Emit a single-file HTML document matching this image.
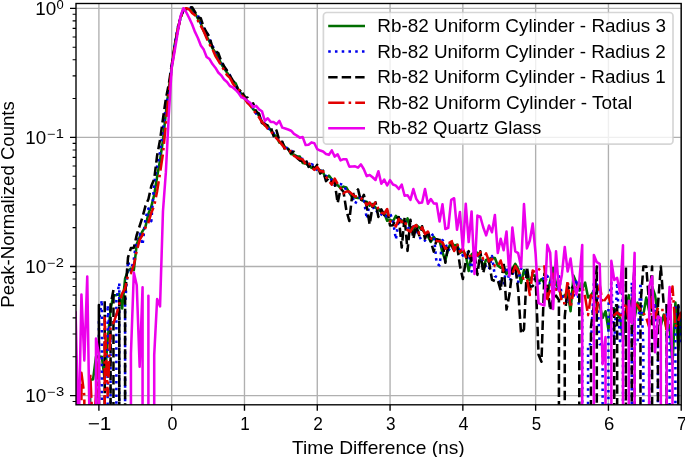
<!DOCTYPE html><html><head><meta charset="utf-8"><style>html,body{margin:0;padding:0;background:#fff;overflow:hidden}svg{display:block;will-change:transform}</style></head><body><svg width="685" height="457" viewBox="0 0 685 457">
<rect width="685" height="457" fill="#fff"/>
<path d="M98.90 3.5V404.8M171.69 3.5V404.8M244.48 3.5V404.8M317.27 3.5V404.8M390.06 3.5V404.8M462.85 3.5V404.8M535.64 3.5V404.8M608.43 3.5V404.8M681.22 3.5V404.8M76.0 8.35H681.2M76.0 137.43H681.2M76.0 266.51H681.2M76.0 395.59H681.2" stroke="#b0b0b0" stroke-width="1.36" fill="none"/>
<defs><clipPath id="c"><rect x="76.0" y="3.5" width="605.2" height="401.3"/></clipPath></defs>
<g clip-path="url(#c)" fill="none" stroke-width="2.55" stroke-linejoin="round">
<path d="M69.78 421.23L75.61 422.88L75.61 418.32L75.61 420.22L90.17 414.86L90.17 379.46L93.08 379.46L95.99 356.73L98.90 356.73L101.81 356.73L104.72 379.46L107.63 340.61L110.55 309.23L113.46 295.15L116.37 295.15L119.28 294.03L122.19 308.50L125.10 278.44L128.02 271.08L130.93 268.55L133.84 270.11L136.75 244.04L139.66 237.17L142.57 231.17L145.49 226.60L148.40 213.81L151.31 206.60L154.22 194.69L157.13 176.74L160.04 160.34L162.96 140.26L165.87 113.05L168.78 88.76L171.69 67.94L174.60 45.28L177.51 30.83L180.42 17.72L183.34 9.25L186.25 8.79L189.16 9.06L192.07 10.37L194.98 13.00L197.89 18.70L200.81 23.66L203.72 31.02L206.63 36.31L209.54 41.68L212.45 48.35L215.36 52.52L218.28 57.21L221.19 63.88L224.10 68.60L227.01 72.58L229.92 76.74L232.83 81.79L235.75 83.39L238.66 90.45L241.57 94.10L244.48 95.93L247.39 101.34L250.30 104.02L253.21 109.34L256.13 110.81L259.04 116.03L261.95 121.45L264.86 125.41L267.77 125.69L270.68 130.34L273.60 134.09L276.51 136.72L279.42 142.62L282.33 142.98L285.24 147.53L288.15 148.67L291.07 154.06L293.98 154.68L296.89 156.29L299.80 156.56L302.71 162.91L305.62 163.49L308.54 165.33L311.45 167.75L314.36 168.38L317.27 168.62L320.18 170.31L323.09 172.47L326.00 178.41L328.92 175.59L331.83 179.31L334.74 181.99L337.65 185.22L340.56 188.12L343.47 186.64L346.39 187.50L349.30 192.68L352.21 196.92L355.12 197.54L358.03 197.93L360.94 198.32L363.86 201.30L366.77 201.65L369.68 205.71L372.59 204.04L375.50 207.63L378.41 208.82L381.33 212.20L384.24 213.22L387.15 220.82L390.06 220.01L392.97 221.49L395.88 215.79L398.79 219.54L401.71 220.20L404.62 224.59L407.53 218.45L410.44 229.11L413.35 230.58L416.26 225.10L419.18 227.41L422.09 229.34L425.00 233.17L427.91 236.34L430.82 241.88L433.73 236.84L436.65 241.13L439.56 240.79L442.47 252.47L445.38 260.20L448.29 248.63L451.20 242.06L454.12 245.67L457.03 244.62L459.94 252.80L462.85 251.04L465.76 255.13L468.67 271.04L471.58 254.57L474.50 252.05L477.41 252.63L480.32 258.66L483.23 266.68L486.14 259.84L489.05 258.82L491.97 257.67L494.88 258.04L497.79 265.46L500.70 267.60L503.61 265.60L506.52 273.97L509.44 267.93L512.35 268.99L515.26 263.88L518.17 268.99L521.08 283.07L523.99 270.02L526.91 277.79L529.82 280.47L532.73 275.18L535.64 275.62L538.55 282.64L541.46 279.02L544.37 282.64L547.29 295.15L550.20 280.80L553.11 267.93L556.02 284.54L558.93 288.54L561.84 297.53L564.76 295.15L567.67 292.86L570.58 311.27L573.49 275.62L576.40 282.64L579.31 290.66L582.23 288.54L585.14 282.64L588.05 297.53L590.96 295.15L593.87 290.66L596.78 302.63L599.70 305.37L602.61 317.88L605.52 311.27L608.43 329.52L611.34 308.24L614.25 308.24L617.16 314.48L620.08 317.88L622.99 338.88L625.90 311.27L628.81 295.15L631.72 321.49L634.63 317.88L637.55 302.63L640.46 314.48L643.37 314.48L646.28 297.53L649.19 311.27L652.10 286.50L655.02 295.15L657.93 314.48L660.84 325.36L663.75 314.48L666.66 329.52L669.57 325.36L672.49 364.22L675.40 302.63L678.31 350.13L681.22 314.48L684.13 317.88" stroke="#006e00" stroke-linecap="square"/>
<path d="M69.78 421.23L98.90 422.88L98.90 322.00L101.81 300.00L101.81 420.22L107.63 414.86L107.63 305.00L110.55 344.00L110.55 421.38L116.37 414.62L116.37 300.00L119.28 283.00L119.28 416.43L125.10 425.87L125.10 305.00L128.02 261.04L130.93 271.00L133.84 259.31L136.75 237.54L139.66 233.91L142.57 244.80L145.49 218.35L148.40 208.57L151.31 221.16L154.22 182.96L157.13 165.90L160.04 152.38L162.96 129.51L165.87 105.60L168.78 92.05L171.69 66.06L174.60 46.03L177.51 28.01L180.42 18.84L183.34 9.06L186.25 10.42L189.16 9.07L192.07 6.86L194.98 13.27L197.89 15.53L200.81 22.17L203.72 28.00L206.63 31.17L209.54 39.50L212.45 45.37L215.36 52.55L218.28 55.02L221.19 62.98L224.10 65.41L227.01 71.19L229.92 75.27L232.83 82.55L235.75 85.54L238.66 92.12L241.57 93.68L244.48 97.80L247.39 101.66L250.30 103.50L253.21 107.87L256.13 113.78L259.04 115.75L261.95 120.46L264.86 123.75L267.77 128.07L270.68 130.00L273.60 133.23L276.51 137.19L279.42 140.77L282.33 142.85L285.24 148.02L288.15 147.91L291.07 150.56L293.98 152.72L296.89 158.07L299.80 158.15L302.71 159.00L305.62 160.50L308.54 164.89L311.45 164.15L314.36 165.53L317.27 170.77L320.18 169.35L323.09 173.19L326.00 176.00L328.92 177.29L331.83 180.29L334.74 185.49L337.65 183.64L340.56 184.13L343.47 184.92L346.39 190.62L349.30 191.83L352.21 197.36L355.12 203.85L358.03 198.26L360.94 197.18L363.86 199.27L366.77 218.81L369.68 202.78L372.59 205.79L375.50 212.49L378.41 210.41L381.33 214.29L384.24 217.54L387.15 215.43L390.06 213.52L392.97 220.30L395.88 239.50L398.79 218.60L401.71 219.90L404.62 220.17L407.53 227.38L410.44 229.23L413.35 226.30L416.26 230.01L419.18 236.09L422.09 241.42L425.00 240.49L427.91 233.50L430.82 236.00L433.73 234.01L436.65 263.68L439.56 265.45L442.47 239.97L445.38 243.43L448.29 250.88L451.20 246.40L454.12 249.33L457.03 248.80L459.94 249.81L462.85 255.58L465.76 252.56L468.67 252.12L471.58 271.50L474.50 250.91L477.41 254.43L480.32 260.08L483.23 260.83L486.14 267.12L489.05 269.62L491.97 255.95L494.88 276.13L497.79 277.66L500.70 283.55L503.61 284.80L506.52 266.67L509.44 281.22L512.35 275.07L515.26 268.16L518.17 282.18L521.08 268.42L523.99 271.91L526.91 272.95L529.82 273.64L532.73 272.94L535.64 280.93L538.55 283.61L541.46 282.39L544.37 275.92L547.29 275.67L550.20 282.62L553.11 279.45L556.02 292.17L558.93 276.25L561.84 295.29L564.76 300.23L567.67 304.32L570.58 293.93L573.49 297.53L576.40 279.21L579.31 310.29L582.23 310.05L582.23 421.83L588.05 428.07L588.05 344.22L590.96 344.22L593.87 282.64L596.78 282.64L599.70 344.22L602.61 344.22L602.61 426.91L608.43 415.77L608.43 305.37L611.34 282.64L614.25 344.22L617.16 282.64L620.08 344.22L622.99 282.64L622.99 414.60L631.72 430.48L631.72 282.64L634.63 344.22L637.55 344.22L640.46 282.64L643.37 344.22L643.37 424.20L649.19 416.41L649.19 344.22L652.10 344.22L655.02 305.37L657.93 344.22L657.93 414.88L666.66 423.30L666.66 305.37L669.57 344.22L669.57 423.85L675.40 428.78L675.40 305.37L678.31 305.37L681.22 344.22L684.13 282.64" stroke="#0000ee" stroke-dasharray="2.55 4.2"/>
<path d="M69.78 481.85L72.70 266.00L72.70 421.23L98.90 422.88L98.90 305.00L98.90 420.22L104.72 414.86L104.72 300.00L104.72 421.38L110.55 414.62L110.55 305.00L113.46 290.00L113.46 416.43L119.28 425.87L119.28 300.00L119.28 421.83L125.10 428.07L125.10 296.00L128.02 257.37L130.93 248.12L133.84 247.65L136.75 234.85L139.66 225.91L142.57 216.88L145.49 205.82L148.40 199.19L151.31 186.09L154.22 179.04L157.13 155.53L160.04 139.99L162.96 118.82L165.87 98.76L168.78 84.31L171.69 64.84L174.60 47.58L177.51 31.06L180.42 17.81L183.34 10.51L186.25 9.02L189.16 8.16L192.07 7.19L194.98 11.94L197.89 17.38L200.81 18.28L203.72 27.34L206.63 32.33L209.54 37.10L212.45 47.23L215.36 51.01L218.28 53.03L221.19 61.02L224.10 66.23L227.01 70.73L229.92 75.73L232.83 80.47L235.75 84.05L238.66 91.95L241.57 89.42L244.48 97.84L247.39 97.43L250.30 105.38L253.21 103.40L256.13 111.77L259.04 113.60L261.95 123.13L264.86 124.02L267.77 125.69L270.68 126.72L273.60 136.10L276.51 130.47L279.42 140.93L282.33 141.69L285.24 151.17L288.15 149.24L291.07 153.03L293.98 151.77L296.89 157.71L299.80 160.44L302.71 161.25L305.62 159.69L308.54 166.87L311.45 163.77L314.36 169.18L317.27 164.80L320.18 173.52L323.09 170.68L326.00 181.12L328.92 178.00L331.83 182.33L334.74 182.36L337.65 203.18L340.56 188.71L343.47 191.56L346.39 210.54L349.30 220.99L352.21 194.79L355.12 193.58L358.03 189.42L360.94 201.11L363.86 194.84L366.77 206.70L369.68 224.57L372.59 205.98L375.50 202.26L378.41 216.90L381.33 209.33L384.24 215.23L387.15 210.63L390.06 225.56L392.97 225.16L395.88 218.85L398.79 217.02L401.71 247.55L404.62 217.50L407.53 250.85L410.44 219.74L413.35 238.80L416.26 226.03L419.18 235.30L422.09 226.19L425.00 238.63L427.91 231.19L430.82 241.61L433.73 251.63L436.65 239.23L439.56 239.92L442.47 240.49L445.38 262.78L448.29 244.88L451.20 244.71L454.12 250.28L457.03 245.35L459.94 265.66L462.85 279.08L465.76 261.50L468.67 251.15L471.58 260.90L474.50 253.59L477.41 274.95L480.32 251.27L483.23 273.07L486.14 260.50L489.05 261.99L491.97 279.74L494.88 280.99L497.79 280.13L500.70 290.41L503.61 261.81L506.52 309.57L509.44 294.54L512.35 269.99L515.26 265.71L518.17 289.97L521.08 333.80L523.99 329.23L526.91 266.64L529.82 286.76L532.73 286.15L535.64 276.81L538.55 354.83L541.46 361.80L544.37 273.72L547.29 284.18L550.20 310.29L553.11 298.00L556.02 295.62L558.93 300.03L558.93 426.91L564.76 415.77L564.76 316.57L567.67 286.28L570.58 290.44L573.49 285.77L576.40 289.97L579.31 282.63L579.31 414.60L590.96 430.48L590.96 326.83L593.87 305.37L596.78 266.51L596.78 424.20L614.25 416.41L614.25 305.37L617.16 305.37L617.16 414.88L625.90 423.30L625.90 266.51L625.90 423.85L631.72 428.78L631.72 305.37L634.63 266.51L634.63 430.30L640.46 413.88L640.46 305.37L643.37 266.51L646.28 266.51L649.19 305.37L652.10 266.51L652.10 424.78L657.93 419.74L657.93 305.37L660.84 266.51L663.75 305.37L666.66 305.37L666.66 411.15L678.31 416.62L678.31 305.37L678.31 418.42L684.13 417.22L684.13 266.51" stroke="#000" stroke-dasharray="9.4 4.1"/>
<path d="M69.78 421.23L72.70 422.88L72.70 434.45L72.70 420.22L81.43 414.86L81.43 372.86L84.34 395.59L84.34 421.38L90.17 414.62L90.17 372.86L93.08 434.45L95.99 395.59L98.90 356.73L98.90 416.43L104.72 425.87L104.72 317.88L107.63 395.59L110.55 327.44L113.46 322.97L116.37 314.92L119.28 303.84L122.19 293.49L125.10 288.51L128.02 275.32L130.93 273.13L133.84 264.94L136.75 250.87L139.66 239.98L142.57 234.83L145.49 227.54L148.40 222.52L151.31 212.66L154.22 205.99L157.13 191.15L160.04 173.05L162.96 153.75L165.87 124.15L168.78 93.82L171.69 68.41L174.60 47.96L177.51 30.64L180.42 18.39L183.34 10.13L186.25 8.16L189.16 9.33L192.07 13.04L194.98 15.23L197.89 20.59L200.81 25.94L203.72 31.25L206.63 38.30L209.54 44.36L212.45 49.08L215.36 55.82L218.28 60.70L221.19 65.59L224.10 70.09L227.01 75.15L229.92 77.93L232.83 83.41L235.75 87.48L238.66 89.71L241.57 95.05L244.48 98.40L247.39 102.89L250.30 105.59L253.21 109.67L256.13 114.05L259.04 117.22L261.95 122.01L264.86 124.95L267.77 128.86L270.68 130.98L273.60 135.15L276.51 138.42L279.42 141.48L282.33 145.16L285.24 148.68L288.15 151.90L291.07 151.07L293.98 155.89L296.89 157.49L299.80 158.84L302.71 159.43L305.62 164.26L308.54 162.49L311.45 166.95L314.36 169.94L317.27 167.02L320.18 171.18L323.09 171.37L326.00 176.66L328.92 180.89L331.83 184.74L334.74 178.58L337.65 183.99L340.56 188.05L343.47 193.29L346.39 191.48L349.30 191.56L352.21 194.29L355.12 196.60L358.03 196.09L360.94 198.06L363.86 200.66L366.77 204.96L369.68 202.48L372.59 206.08L375.50 202.70L378.41 209.05L381.33 212.80L384.24 213.52L387.15 209.07L390.06 221.40L392.97 222.99L395.88 226.49L398.79 219.01L401.71 222.12L404.62 220.23L407.53 230.04L410.44 231.65L413.35 226.66L416.26 225.02L419.18 233.70L422.09 227.30L425.00 234.10L427.91 231.56L430.82 238.46L433.73 238.81L436.65 240.92L439.56 241.16L442.47 242.52L445.38 248.75L448.29 246.24L451.20 238.89L454.12 250.96L457.03 243.07L459.94 252.15L462.85 248.47L465.76 256.89L468.67 254.26L471.58 258.70L474.50 251.67L477.41 255.76L480.32 252.16L483.23 259.22L486.14 253.40L489.05 261.36L491.97 258.82L494.88 266.11L497.79 266.30L500.70 260.48L503.61 271.24L506.52 270.04L509.44 269.97L512.35 273.33L515.26 266.18L518.17 270.89L521.08 276.42L523.99 278.71L526.91 278.10L529.82 295.05L532.73 270.44L535.64 272.42L538.55 269.98L541.46 266.51L544.37 266.51L547.29 299.01L550.20 289.80L553.11 273.68L556.02 289.80L558.93 284.93L561.84 303.17L564.76 303.17L567.67 280.44L570.58 307.66L573.49 291.53L576.40 288.13L579.31 286.50L582.23 286.50L585.14 297.05L588.05 315.14L590.96 295.15L593.87 299.01L596.78 312.53L599.70 284.93L602.61 303.17L605.52 299.01L608.43 295.15L611.34 307.66L614.25 315.14L617.16 312.53L620.08 315.14L622.99 315.14L625.90 303.17L628.81 320.75L631.72 317.88L634.63 303.17L637.55 305.37L640.46 310.04L643.37 312.53L646.28 317.88L649.19 326.99L652.10 297.05L655.02 317.88L657.93 307.66L660.84 310.04L663.75 310.04L666.66 330.39L669.57 317.88L672.49 286.50L675.40 326.99L678.31 320.75L681.22 312.53L684.13 330.39" stroke="#e20000" stroke-dasharray="16.3 4.1 2.55 4.1"/>
<path d="M69.78 276.68L69.78 421.23L75.61 422.88L75.61 312.05L78.52 441.09L81.43 294.53L84.34 360.38L87.25 276.52L90.17 465.03L90.17 420.22L95.99 414.86L95.99 338.52L98.90 353.87L98.90 421.38L130.93 414.62L130.93 354.04L133.84 272.58L136.75 285.32L139.66 366.79L142.57 287.23L142.57 416.43L148.40 425.87L148.40 295.85L148.40 421.83L154.22 428.07L154.22 355.15L157.13 299.02L160.04 306.34L162.96 211.48L165.87 172.14L168.78 115.28L171.69 67.82L174.60 51.51L177.51 33.79L180.42 16.71L183.34 8.25L186.25 12.21L189.16 17.97L192.07 24.33L194.98 31.92L197.89 37.97L200.81 45.46L203.72 49.60L206.63 56.98L209.54 59.06L212.45 64.05L215.36 67.68L218.28 72.48L221.19 75.34L224.10 79.56L227.01 82.04L229.92 86.01L232.83 87.44L235.75 89.93L238.66 93.27L241.57 97.41L244.48 98.55L247.39 100.71L250.30 102.96L253.21 106.92L256.13 105.82L259.04 109.39L261.95 111.21L264.86 120.83L267.77 118.31L270.68 121.87L273.60 122.06L276.51 124.26L279.42 120.92L282.33 127.64L285.24 128.46L288.15 129.49L291.07 130.72L293.98 133.96L296.89 135.60L299.80 137.66L302.71 137.07L305.62 145.06L308.54 144.69L311.45 142.38L314.36 143.19L317.27 149.21L320.18 150.58L323.09 151.58L326.00 154.03L328.92 154.85L331.83 150.43L334.74 156.61L337.65 154.35L340.56 160.42L343.47 159.16L346.39 159.16L349.30 166.64L352.21 166.52L355.12 166.29L358.03 167.60L360.94 164.44L363.86 169.27L366.77 176.16L369.68 174.96L372.59 177.25L375.50 180.02L378.41 171.23L381.33 183.67L384.24 179.50L387.15 185.49L390.06 180.18L392.97 184.48L395.88 185.65L398.79 189.04L401.71 184.59L404.62 195.75L407.53 195.17L410.44 199.86L413.35 189.07L416.26 198.88L419.18 203.05L422.09 202.48L425.00 189.04L427.91 203.73L430.82 199.01L433.73 203.41L436.65 203.64L439.56 221.58L442.47 204.24L445.38 229.04L448.29 227.75L451.20 199.80L454.12 198.24L457.03 229.76L459.94 211.95L462.85 249.35L465.76 203.85L468.67 242.06L471.58 211.43L474.50 273.86L477.41 215.61L480.32 216.77L483.23 227.25L486.14 235.32L489.05 225.59L491.97 232.32L494.88 214.92L497.79 252.90L500.70 238.77L503.61 250.27L506.52 231.48L509.44 275.98L512.35 227.48L515.26 251.41L518.17 253.20L521.08 267.34L523.99 204.11L526.91 248.37L529.82 240.52L532.73 223.50L535.64 254.12L538.55 303.05L541.46 304.35L544.37 305.51L547.29 244.85L550.20 252.74L553.11 309.01L556.02 251.36L558.93 290.54L561.84 274.90L564.76 246.91L567.67 271.55L570.58 258.56L573.49 282.09L576.40 294.56L579.31 281.22L582.23 245.11L582.23 426.91L593.87 415.77L593.87 255.05L596.78 262.19L599.70 263.82L602.61 364.17L605.52 337.01L605.52 414.60L611.34 430.48L611.34 260.88L614.25 279.95L617.16 277.87L620.08 293.13L622.99 245.24L622.99 424.20L628.81 416.41L628.81 300.70L631.72 323.46L634.63 252.90L634.63 414.88L640.46 423.30L640.46 418.49L640.46 423.85L649.19 428.78L649.19 286.94L652.10 276.49L655.02 352.32L657.93 316.43L660.84 318.05L660.84 430.30L666.66 413.88L666.66 343.50L669.57 287.10L672.49 361.54L672.49 424.78L684.13 419.74" stroke="#ec00ec" stroke-linecap="square"/>
</g>
<path d="M98.90 404.8v6M171.69 404.8v6M244.48 404.8v6M317.27 404.8v6M390.06 404.8v6M462.85 404.8v6M535.64 404.8v6M608.43 404.8v6M681.22 404.8v6M76.0 8.35h-6M76.0 137.43h-6M76.0 266.51h-6M76.0 395.59h-6" stroke="#000" stroke-width="1.36"/>
<path d="M76.0 98.57h-3.4M76.0 75.84h-3.4M76.0 59.72h-3.4M76.0 47.21h-3.4M76.0 36.99h-3.4M76.0 28.34h-3.4M76.0 20.86h-3.4M76.0 14.26h-3.4M76.0 227.65h-3.4M76.0 204.92h-3.4M76.0 188.80h-3.4M76.0 176.29h-3.4M76.0 166.07h-3.4M76.0 157.42h-3.4M76.0 149.94h-3.4M76.0 143.34h-3.4M76.0 356.73h-3.4M76.0 334.00h-3.4M76.0 317.88h-3.4M76.0 305.37h-3.4M76.0 295.15h-3.4M76.0 286.50h-3.4M76.0 279.02h-3.4M76.0 272.42h-3.4M76.0 401.50h-3.4" stroke="#000" stroke-width="1.1"/>
<rect x="76.0" y="3.5" width="605.2" height="401.3" fill="none" stroke="#000" stroke-width="1.36"/>
<text x="87.73" y="430.20" font-family="Liberation Sans, sans-serif" font-size="18.1" textLength="23.73" lengthAdjust="spacingAndGlyphs" fill="#000">−1</text>
<text x="167.41" y="430.20" font-family="Liberation Sans, sans-serif" font-size="18.1" textLength="9.97" lengthAdjust="spacingAndGlyphs" fill="#000">0</text>
<text x="240.19" y="430.20" font-family="Liberation Sans, sans-serif" font-size="18.1" textLength="9.52" lengthAdjust="spacingAndGlyphs" fill="#000">1</text>
<text x="313.17" y="430.20" font-family="Liberation Sans, sans-serif" font-size="18.1" textLength="9.61" lengthAdjust="spacingAndGlyphs" fill="#000">2</text>
<text x="386.02" y="430.20" font-family="Liberation Sans, sans-serif" font-size="18.1" textLength="9.57" lengthAdjust="spacingAndGlyphs" fill="#000">3</text>
<text x="458.62" y="430.20" font-family="Liberation Sans, sans-serif" font-size="18.1" textLength="9.97" lengthAdjust="spacingAndGlyphs" fill="#000">4</text>
<text x="531.65" y="430.20" font-family="Liberation Sans, sans-serif" font-size="18.1" textLength="9.41" lengthAdjust="spacingAndGlyphs" fill="#000">5</text>
<text x="603.91" y="430.20" font-family="Liberation Sans, sans-serif" font-size="18.1" textLength="10.32" lengthAdjust="spacingAndGlyphs" fill="#000">6</text>
<text x="677.04" y="430.20" font-family="Liberation Sans, sans-serif" font-size="18.1" textLength="9.75" lengthAdjust="spacingAndGlyphs" fill="#000">7</text>
<text x="35.26" y="14.65" font-family="Liberation Sans, sans-serif" font-size="18.1" textLength="20.97" lengthAdjust="spacingAndGlyphs" fill="#000">10</text>
<text x="56.49" y="9.05" font-family="Liberation Sans, sans-serif" font-size="12.2" textLength="7.21" lengthAdjust="spacingAndGlyphs" fill="#000">0</text>
<text x="25.37" y="143.83" font-family="Liberation Sans, sans-serif" font-size="18.1" textLength="20.86" lengthAdjust="spacingAndGlyphs" fill="#000">10</text>
<text x="47.28" y="137.73" font-family="Liberation Sans, sans-serif" font-size="11.9" textLength="16.75" lengthAdjust="spacingAndGlyphs" fill="#000">−1</text>
<text x="25.37" y="272.91" font-family="Liberation Sans, sans-serif" font-size="18.1" textLength="20.86" lengthAdjust="spacingAndGlyphs" fill="#000">10</text>
<text x="47.28" y="266.81" font-family="Liberation Sans, sans-serif" font-size="11.9" textLength="16.67" lengthAdjust="spacingAndGlyphs" fill="#000">−2</text>
<text x="25.37" y="401.99" font-family="Liberation Sans, sans-serif" font-size="18.1" textLength="20.86" lengthAdjust="spacingAndGlyphs" fill="#000">10</text>
<text x="47.27" y="395.89" font-family="Liberation Sans, sans-serif" font-size="11.9" textLength="16.83" lengthAdjust="spacingAndGlyphs" fill="#000">−3</text>
<text x="291.97" y="453.50" font-family="Liberation Sans, sans-serif" font-size="18.1" textLength="172.71" lengthAdjust="spacingAndGlyphs" fill="#000">Time Difference (ns)</text>
<text transform="translate(13.6 307.72) rotate(-90)" font-family="Liberation Sans, sans-serif" font-size="18.1" textLength="206.50" lengthAdjust="spacingAndGlyphs" fill="#000">Peak-Normalized Counts</text>
<rect x="323.4" y="12.5" width="349.6" height="131.7" rx="3.4" fill="#fff" fill-opacity="0.8" stroke="#ccc" stroke-opacity="0.8" stroke-width="1.7"/>
<path d="M328.2 25.9H365" stroke="#006e00" stroke-width="2.55" fill="none"/>
<text x="377.35" y="32.00" font-family="Liberation Sans, sans-serif" font-size="18.1" textLength="288.58" lengthAdjust="spacingAndGlyphs" fill="#000">Rb-82 Uniform Cylinder - Radius 3</text>
<path d="M328.2 51.5H365" stroke="#0000ee" stroke-dasharray="2.55 4.2" stroke-width="2.55" fill="none"/>
<text x="377.35" y="57.60" font-family="Liberation Sans, sans-serif" font-size="18.1" textLength="288.36" lengthAdjust="spacingAndGlyphs" fill="#000">Rb-82 Uniform Cylinder - Radius 2</text>
<path d="M328.2 77.2H365" stroke="#000" stroke-dasharray="9.4 4.1" stroke-width="2.55" fill="none"/>
<text x="377.35" y="83.20" font-family="Liberation Sans, sans-serif" font-size="18.1" textLength="288.46" lengthAdjust="spacingAndGlyphs" fill="#000">Rb-82 Uniform Cylinder - Radius 1</text>
<path d="M328.2 102.8H365" stroke="#e20000" stroke-dasharray="16.3 4.1 2.55 4.1" stroke-width="2.55" fill="none"/>
<text x="377.36" y="108.80" font-family="Liberation Sans, sans-serif" font-size="18.1" textLength="254.80" lengthAdjust="spacingAndGlyphs" fill="#000">Rb-82 Uniform Cylinder - Total</text>
<path d="M328.2 128.3H365" stroke="#ec00ec" stroke-width="2.55" fill="none"/>
<text x="377.38" y="134.40" font-family="Liberation Sans, sans-serif" font-size="18.1" textLength="163.99" lengthAdjust="spacingAndGlyphs" fill="#000">Rb-82 Quartz Glass</text>
</svg></body></html>
